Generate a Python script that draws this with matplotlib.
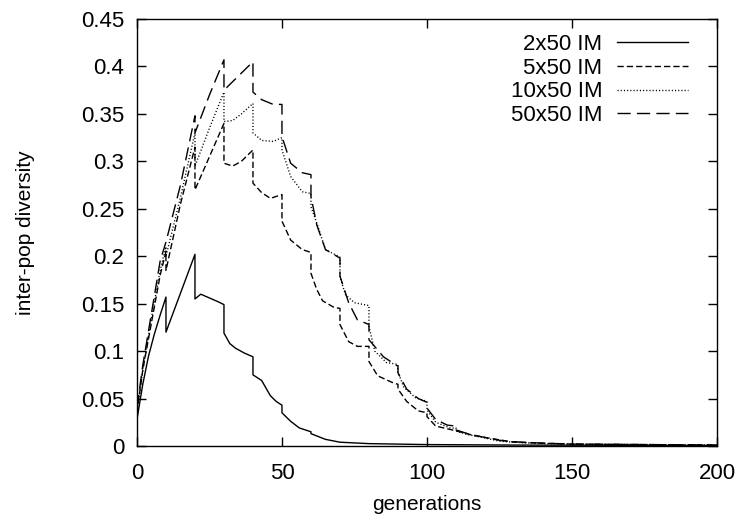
import matplotlib
matplotlib.use("Agg")
import matplotlib.pyplot as plt

# generations / inter-pop diversity (repeated x = jump at migration)
gen_2x50 = [0, 2, 4, 6, 8, 10, 10, 15, 20, 20, 22, 25, 28, 30, 30, 32, 34, 37, 40, 40,
            43, 46, 48, 50, 50, 53, 56, 60, 60, 65, 70, 80, 90, 100, 130, 200]
div_2x50 = [0.028, 0.065, 0.095, 0.118, 0.138, 0.157, 0.120, 0.161, 0.202, 0.155,
            0.160, 0.156, 0.152, 0.149, 0.119, 0.108, 0.103, 0.098, 0.094, 0.075,
            0.069, 0.053, 0.047, 0.043, 0.035, 0.026, 0.019, 0.015, 0.013, 0.007,
            0.004, 0.0025, 0.002, 0.0015, 0.001, 0.0005]

gen_5x50 = [0, 2, 5, 8, 10, 10, 15, 20, 20, 25, 30, 30, 33, 36, 40, 40, 43, 46, 50, 50,
            53, 57, 60, 60, 62, 64, 68, 70, 70, 73, 76, 80, 80, 83, 88, 90, 90, 93, 97, 100,
            100, 103, 110, 115, 120, 130, 140, 150, 200]
div_5x50 = [0.035, 0.08, 0.13, 0.18, 0.205, 0.185, 0.255, 0.315, 0.27, 0.305,
            0.34, 0.298, 0.295, 0.300, 0.312, 0.277, 0.267, 0.261, 0.265, 0.237,
            0.217, 0.207, 0.204, 0.182, 0.165, 0.153, 0.146, 0.145, 0.128, 0.110,
            0.105, 0.105, 0.089, 0.074, 0.067, 0.065, 0.060, 0.047, 0.037, 0.035,
            0.031, 0.021, 0.016, 0.012, 0.009, 0.004, 0.003, 0.002, 0.001]

gen_10x50 = [0, 2, 5, 8, 10, 10, 15, 20, 20, 25, 30, 30, 33, 36, 40, 40, 43, 47, 50, 50,
             53, 57, 60, 60, 62, 65, 70, 70, 71, 72, 75, 80, 80, 82, 86, 90, 90, 92, 96, 100,
             100, 103, 108, 110, 110, 114, 120, 125, 130, 140, 150, 200]
div_10x50 = [0.035, 0.08, 0.135, 0.185, 0.21, 0.2, 0.262, 0.33, 0.295, 0.335,
             0.373, 0.342, 0.343, 0.350, 0.361, 0.330, 0.322, 0.321, 0.325, 0.312,
             0.284, 0.268, 0.266, 0.252, 0.235, 0.207, 0.199, 0.179, 0.168, 0.159,
             0.151, 0.148, 0.126, 0.100, 0.088, 0.086, 0.078, 0.062, 0.051, 0.047,
             0.038, 0.025, 0.019, 0.019, 0.016, 0.012, 0.0085, 0.005, 0.004, 0.0025,
             0.002, 0.001]

gen_50x50 = [0, 2, 5, 8, 10, 15, 20, 20, 25, 30, 30, 35, 40, 40, 43, 47, 50, 50, 53, 57,
             60, 60, 62, 65, 70, 70, 73, 76, 80, 80, 85, 90, 90, 93, 97, 100, 100, 103, 107, 110,
             110, 115, 120, 125, 130, 140, 150, 200]
div_50x50 = [0.04, 0.085, 0.14, 0.195, 0.215, 0.275, 0.348, 0.33, 0.37, 0.407,
             0.375, 0.39, 0.405, 0.373, 0.365, 0.360, 0.360, 0.326, 0.298, 0.288,
             0.286, 0.263, 0.233, 0.207, 0.198, 0.179, 0.151, 0.133, 0.128, 0.112,
             0.094, 0.084, 0.077, 0.060, 0.050, 0.046, 0.040, 0.028, 0.022, 0.021,
             0.017, 0.012, 0.009, 0.006, 0.0045, 0.003, 0.002, 0.001]

labels = ["2x50 IM", "5x50 IM", "10x50 IM", "50x50 IM"]
xticks = [0, 50, 100, 150, 200]
yticks = [0, 0.05, 0.1, 0.15, 0.2, 0.25, 0.3, 0.35, 0.4, 0.45]
ytick_labels = ["0", "0.05", "0.1", "0.15", "0.2", "0.25", "0.3", "0.35", "0.4", "0.45"]

plt.rcParams['font.family'] = ['Liberation Sans', 'DejaVu Sans']
plt.rcParams['font.size'] = 15

fig = plt.figure(figsize=(7.46, 5.27), dpi=100)
ax = fig.add_axes([0.1836, 0.1537, 0.7775, 0.8102])

lw = 1.0
ax.plot(gen_2x50, div_2x50, color='black', lw=lw, linestyle='-', label=labels[0])
ax.plot(gen_5x50, div_5x50, color='black', lw=lw, linestyle=(0, (4.5, 2.2)), label=labels[1])
ax.plot(gen_10x50, div_10x50, color='black', lw=lw, linestyle=(0, (0.8, 1.5)), label=labels[2])
ax.plot(gen_50x50, div_50x50, color='black', lw=lw, linestyle=(0, (9.5, 4.5)), label=labels[3])

ax.set_xlim(0, 200)
ax.set_ylim(0, 0.45)
ax.set_xticks(xticks)
ax.set_yticks(yticks)
ax.set_yticklabels(ytick_labels)
ax.tick_params(direction='in', length=6.5, width=1, top=True, right=True, labelsize=16)
ax.tick_params(axis='x', pad=12)
ax.tick_params(axis='y', pad=9)
for s in ax.spines.values():
    s.set_linewidth(1.0)

ax.set_xlabel("generations", fontsize=15)
ax.set_ylabel("inter-pop diversity", fontsize=15)
ax.xaxis.set_label_coords(0.5, -0.115)
ax.yaxis.set_label_coords(-0.175, 0.5)

# markerfirst=False puts the text left of the sample line, rows right-aligned
ax.legend(loc='upper right', bbox_to_anchor=(0.95, 0.965), frameon=False,
          markerfirst=False, handlelength=3.2, handletextpad=0.65,
          labelspacing=0.12, borderpad=0, borderaxespad=0, fontsize=16)

fig.savefig("out.png", dpi=100)
